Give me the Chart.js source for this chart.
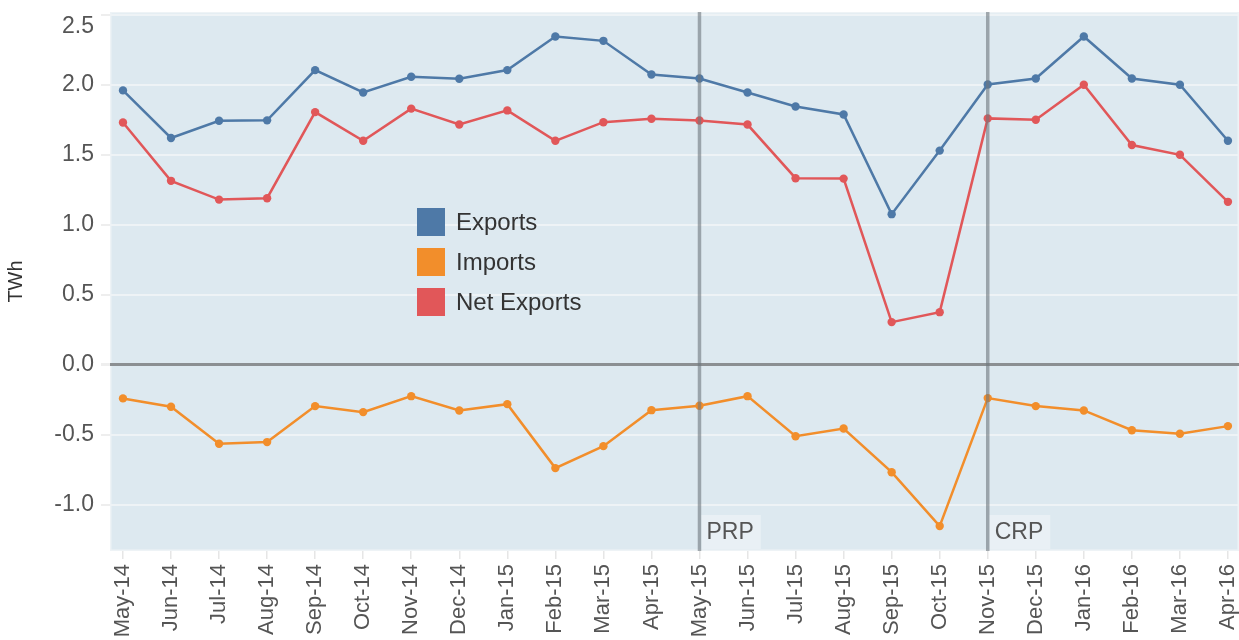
<!DOCTYPE html>
<html>
<head>
<meta charset="utf-8">
<script src="https://cdn.jsdelivr.net/npm/chart.js@4.4.1/dist/chart.umd.min.js"></script>
<style>
  html, body { margin: 0; padding: 0; background: #ffffff; overflow: hidden; }
  #wrap { position: relative; width: 1239px; height: 640px; }
  canvas { display: block; }
</style>
</head>
<body>
<div id="wrap"><canvas id="c"></canvas></div>
<script>
const categories = ['May-14','Jun-14','Jul-14','Aug-14','Sep-14','Oct-14','Nov-14','Dec-14',
  'Jan-15','Feb-15','Mar-15','Apr-15','May-15','Jun-15','Jul-15','Aug-15','Sep-15','Oct-15',
  'Nov-15','Dec-15','Jan-16','Feb-16','Mar-16','Apr-16'];
const exportsTWh = [1.96, 1.62, 1.743, 1.746, 2.105, 1.945, 2.057, 2.043, 2.105, 2.345, 2.314, 2.074,
  2.045, 1.945, 1.845, 1.788, 1.076, 1.53, 2.002, 2.045, 2.345, 2.045, 2.0, 1.60];
const importsTWh = [-0.24, -0.30, -0.564, -0.552, -0.295, -0.338, -0.224, -0.326, -0.281, -0.738, -0.581, -0.324,
  -0.293, -0.224, -0.51, -0.455, -0.767, -1.152, -0.238, -0.295, -0.326, -0.467, -0.493, -0.438];
const netExportsTWh = [1.731, 1.314, 1.18, 1.19, 1.805, 1.60, 1.83, 1.716, 1.817, 1.60, 1.733, 1.757,
  1.745, 1.716, 1.333, 1.33, 0.305, 0.376, 1.76, 1.75, 2.0, 1.57, 1.50, 1.164];
const yTicks = [-1.0, -0.5, 0.0, 0.5, 1.0, 1.5, 2.0, 2.5];
const markers = [{ at: 'May-15', label: 'PRP' }, { at: 'Nov-15', label: 'CRP' }];

const COLORS = { exp: '#4e79a7', imp: '#f28e2b', net: '#e15759' };
const FONT = '"Liberation Sans", Arial, Helvetica, sans-serif';

function toXY(arr) { return arr.map((v, i) => ({ x: i, y: v })); }

const bgPlugin = {
  id: 'plotBg',
  beforeDraw(chart) {
    const { ctx, chartArea: a } = chart;
    ctx.save();
    ctx.fillStyle = '#dde9f0';
    ctx.fillRect(a.left, a.top, a.right - a.left, a.bottom - a.top);
    ctx.strokeStyle = '#eef3f6';
    ctx.lineWidth = 1.5;
    ctx.strokeRect(a.left + 0.75, a.top + 0.75, a.right - a.left - 1.5, a.bottom - a.top - 1.5);
    ctx.restore();
  }
};

const markerPlugin = {
  id: 'markers',
  afterDatasetsDraw(chart) {
    const { ctx, chartArea: a, scales } = chart;
    ctx.save();
    markers.forEach(m => {
      const x = scales.x.getPixelForValue(categories.indexOf(m.at));
      ctx.strokeStyle = 'rgba(110,118,125,0.6)';
      ctx.lineWidth = 3.5;
      ctx.beginPath();
      ctx.moveTo(x, a.top);
      ctx.lineTo(x, a.bottom);
      ctx.stroke();
      ctx.font = '23px ' + FONT;
      const w = ctx.measureText(m.label).width;
      ctx.fillStyle = 'rgba(255,255,255,0.35)';
      ctx.fillRect(x + 2, a.bottom - 36, w + 12, 34);
      ctx.fillStyle = '#555555';
      ctx.textBaseline = 'middle';
      ctx.textAlign = 'left';
      ctx.fillText(m.label, x + 7, a.bottom - 18);
    });
    ctx.restore();
  }
};

const legendPlugin = {
  id: 'innerLegend',
  afterDraw(chart) {
    const { ctx } = chart;
    const x0 = 417, y0 = 208, size = 28, gap = 40;
    ctx.save();
    chart.data.datasets.forEach((ds, i) => {
      const y = y0 + i * gap;
      ctx.fillStyle = ds.borderColor;
      ctx.fillRect(x0, y, size, size);
      ctx.fillStyle = '#333333';
      ctx.font = '24px ' + FONT;
      ctx.textBaseline = 'middle';
      ctx.textAlign = 'left';
      ctx.fillText(ds.label, x0 + 39, y + size / 2 + 1);
    });
    ctx.restore();
  }
};

const lineDs = (label, data, color) => ({
  label, data: toXY(data), borderColor: color, backgroundColor: color,
  borderWidth: 2.5, pointRadius: 4.2, pointHoverRadius: 4.2, pointBorderWidth: 0,
  pointBackgroundColor: color, tension: 0, fill: false
});

new Chart(document.getElementById('c'), {
  type: 'line',
  data: {
    datasets: [
      lineDs('Exports', exportsTWh, COLORS.exp),
      lineDs('Imports', importsTWh, COLORS.imp),
      lineDs('Net Exports', netExportsTWh, COLORS.net)
    ]
  },
  options: {
    responsive: true,
    maintainAspectRatio: false,
    animation: false,
    events: [],
    layout: { autoPadding: false, padding: { top: 12, right: 0, left: 0, bottom: 0 } },
    plugins: { legend: { display: false }, tooltip: { enabled: false } },
    scales: {
      x: {
        type: 'linear',
        min: -0.27,
        max: 23.23,
        afterBuildTicks(scale) { scale.ticks = categories.map((_, i) => ({ value: i })); },
        afterFit(scale) { scale.height = 89; scale.paddingLeft = 0; scale.paddingRight = 0; },
        grid: { drawOnChartArea: false, drawTicks: true, tickLength: 8, color: '#e6e6e6', lineWidth: 1.5 },
        border: { display: false },
        ticks: {
          autoSkip: false,
          minRotation: 90,
          maxRotation: 90,
          padding: 5,
          color: '#555555',
          font: { family: FONT, size: 22 },
          callback: (v) => categories[v] ?? ''
        }
      },
      y: {
        min: -1.33,
        max: 2.52,
        afterBuildTicks(scale) { scale.ticks = yTicks.map(v => ({ value: v })); },
        afterFit(scale) { scale.width = 110; scale.paddingTop = 0; scale.paddingBottom = 0; },
        border: { display: false },
        grid: {
          drawTicks: true,
          tickLength: 9,
          tickColor: '#eeeeee',
          color: (c) => (c.tick && c.tick.value === 0) ? '#8b8f92' : '#eef3f6',
          lineWidth: (c) => (c.tick && c.tick.value === 0) ? 3 : 2
        },
        ticks: {
          padding: 7,
          color: '#555555',
          font: { family: FONT, size: 23, lineHeight: 1 },
          callback: (v) => {
            const s = Number(v).toFixed(1);
            return v === 2.5 ? ['', s] : s;
          }
        },
        title: {
          display: true,
          text: 'TWh',
          color: '#333333',
          font: { family: FONT, size: 20 },
          padding: { top: 4, bottom: 0 }
        }
      }
    }
  },
  plugins: [bgPlugin, markerPlugin, legendPlugin]
});
</script>
</body>
</html>
